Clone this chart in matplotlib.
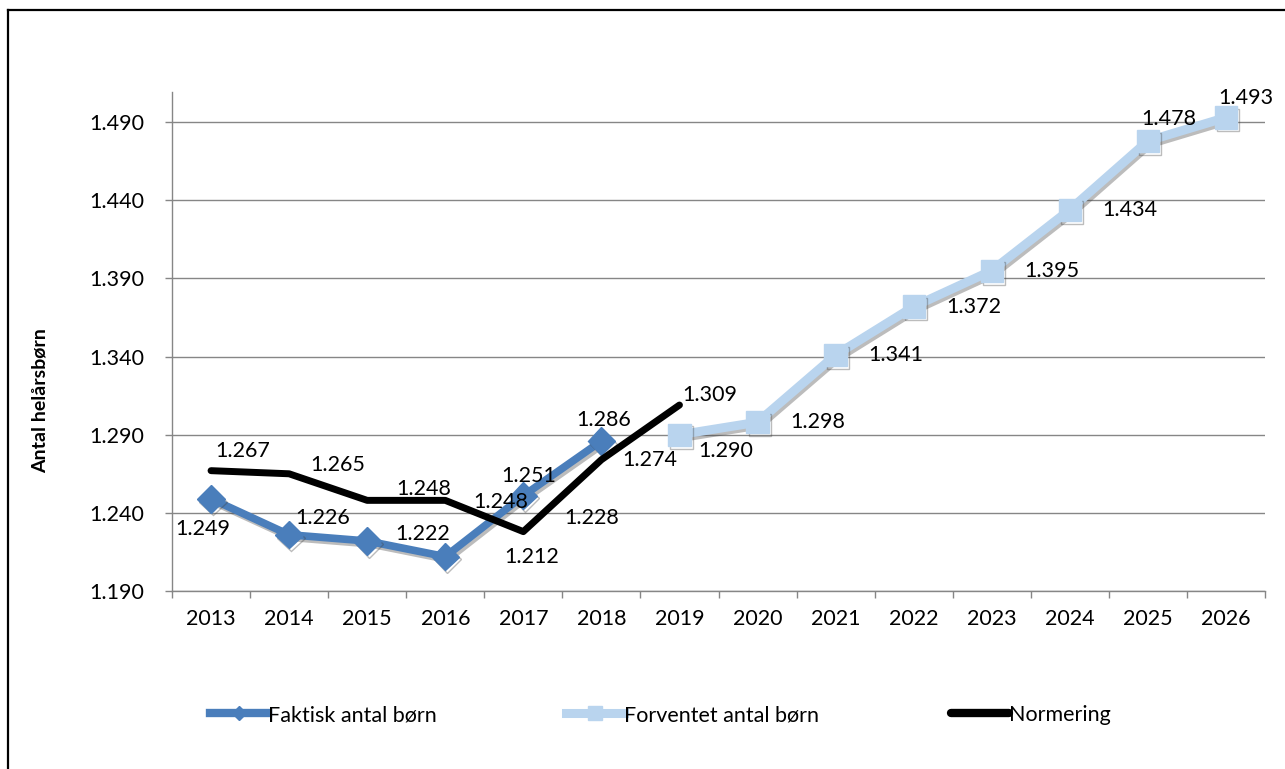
import matplotlib
matplotlib.use("Agg")
import matplotlib.pyplot as plt
import matplotlib.patheffects as pe
from matplotlib.lines import Line2D
import numpy as np

plt.rcParams['font.family'] = ['Lato', 'DejaVu Sans']

# ---- data ----
years = ['2013', '2014', '2015', '2016', '2017', '2018', '2019',
         '2020', '2021', '2022', '2023', '2024', '2025', '2026']
faktisk_years = ['2013', '2014', '2015', '2016', '2017', '2018']
faktisk = [1.249, 1.226, 1.222, 1.212, 1.251, 1.286]
forventet_years = ['2019', '2020', '2021', '2022', '2023', '2024', '2025', '2026']
forventet = [1.290, 1.298, 1.341, 1.372, 1.395, 1.434, 1.478, 1.493]
normering_years = ['2013', '2014', '2015', '2016', '2017', '2018', '2019']
normering = [1.267, 1.265, 1.248, 1.248, 1.228, 1.274, 1.309]
yticks = [1.190, 1.240, 1.290, 1.340, 1.390, 1.440, 1.490]

# label offsets (points) relative to each point
faktisk_off = [(-6, -22), (24, 12), (40, 5), (62, 0), (4, 14), (2, 15)]
forventet_off = [(33, -12), (43, 0), (43, 0), (43, 0), (43, 0), (43, 0), (15, 16), (14, 14)]
normering_off = [(23, 14), (35, 6), (41, 8), (40, -1), (49, 10), (35, 0), (22, 7)]

def fmt(v):
    return f"{v:.3f}"

W, H = 1285, 769
fig = plt.figure(figsize=(W / 100, H / 100), dpi=100)
ax = fig.add_axes([172 / W, 1 - 591 / H, (1265 - 172) / W, (591 - 92) / H])

xi = {y: i for i, y in enumerate(years)}
c_fak = '#4A7EBB'
c_for = '#B9D4EE'
c_nor = '#000000'
shadow = [pe.SimpleLineShadow(offset=(1.5, -2), alpha=0.35, shadow_color='#404040'), pe.Normal()]

xf = [xi[y] for y in faktisk_years]
xv = [xi[y] for y in forventet_years]
xn = [xi[y] for y in normering_years]

ax.plot(xf, faktisk, color=c_fak, lw=5.5, marker='D', ms=14, mec=c_fak, mfc=c_fak,
        zorder=3, path_effects=shadow)
ax.plot(xv, forventet, color=c_for, lw=6.5, marker='s', ms=16, mec=c_for, mfc=c_for,
        zorder=3, path_effects=shadow)
ax.plot(xn, normering, color=c_nor, lw=5, zorder=4, solid_capstyle='round')

fs = 15.5
for xs, vals, offs in [(xf, faktisk, faktisk_off), (xv, forventet, forventet_off), (xn, normering, normering_off)]:
    for x, v, o in zip(xs, vals, offs):
        ax.annotate(fmt(v), (x, v), xytext=o, textcoords='offset points',
                    ha='center', va='center', fontsize=fs, color='black', zorder=6)

ax.set_xlim(-0.5, len(years) - 0.5)
ax.set_ylim(1.190, 1.5093)
ax.set_yticks(yticks)
ax.set_yticklabels([fmt(v) for v in yticks])
ax.set_xticks(np.arange(len(years)))
ax.set_xticklabels(years)
ax.set_xticks(np.arange(len(years) + 1) - 0.5, minor=True)
ax.tick_params(axis='x', which='major', length=0, pad=13, labelsize=fs)
ax.tick_params(axis='x', which='minor', length=5, width=1, color='#868686', direction='out')
ax.tick_params(axis='y', length=5, width=1, color='#868686', pad=15, labelsize=fs)
ax.yaxis.grid(True, color='#868686', lw=1)
ax.set_axisbelow(True)
for s in ['top', 'right']:
    ax.spines[s].set_visible(False)
for s in ['left', 'bottom']:
    ax.spines[s].set_color('#868686')
    ax.spines[s].set_linewidth(1)

fig.text(40 / W, 1 - 401 / H, 'Antal helårsbørn', rotation=90, ha='center', va='center',
         fontsize=14, fontweight='bold')

# legends
handles = [
    Line2D([], [], color=c_fak, lw=6, marker='D', ms=7, mec=c_fak, mfc=c_fak),
    Line2D([], [], color=c_for, lw=6.5, marker='s', ms=10, mec=c_for, mfc=c_for),
    Line2D([], [], color=c_nor, lw=6, solid_capstyle='round'),
]
labels = ['Faktisk antal børn', 'Forventet antal børn', 'Normering']
xs_leg = [210, 566, 951]
for h, l, xl in zip(handles, labels, xs_leg):
    lg = fig.legend([h], [l], loc='center left', bbox_to_anchor=(xl / W, 1 - 715 / H),
                    frameon=False, handlelength=2.7, handletextpad=0.0, borderpad=0,
                    borderaxespad=0, fontsize=fs)

# chart frame (left and top edges)
fig.add_artist(Line2D([8 / W, 8 / W], [0, 1 - 10 / H], color='black', lw=1.6, transform=fig.transFigure))
fig.add_artist(Line2D([8 / W, 1], [1 - 10 / H, 1 - 10 / H], color='black', lw=1.6, transform=fig.transFigure))

fig.savefig('out.png', dpi=100)
